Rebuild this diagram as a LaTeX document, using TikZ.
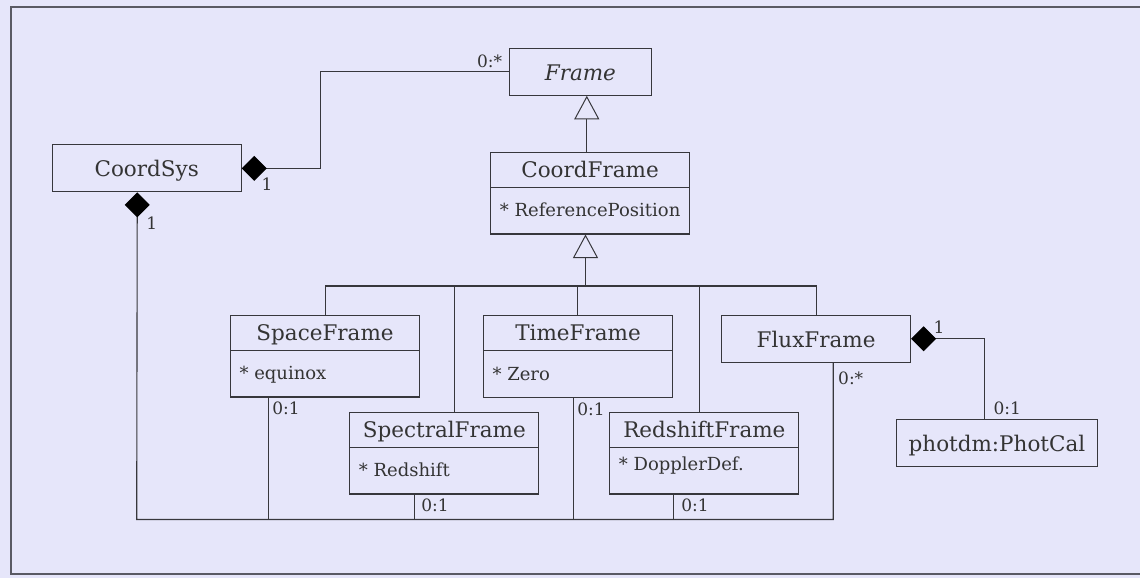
\documentclass[tikz,border=0pt]{standalone}
\usepackage{fontspec}
\setmainfont{DejaVu Serif}
\usetikzlibrary{shapes,arrows.meta}
\definecolor{bgcol}{RGB}{230,230,250}
\definecolor{txtcol}{RGB}{52,52,52}
\definecolor{linecol}{RGB}{55,55,60}
\definecolor{rimcol}{RGB}{90,90,100}
\newcommand{\titlefont}{\fontsize{21.5}{24}\selectfont}
\newcommand{\attrfont}{\fontsize{18}{21}\selectfont}
\newcommand{\multfont}{\fontsize{17}{20}\selectfont}
\newcommand{\tstrut}{\rule[-9.5pt]{0pt}{34pt}}
\newcommand{\astrut}{\rule[-16.5pt]{0pt}{45.5pt}}
\newcommand{\astrutup}{\rule[-23pt]{0pt}{45.5pt}}
\newcommand{\bstrut}{\rule[-15pt]{0pt}{47pt}}

\begin{document}
\begin{tikzpicture}[x=1pt,y=-1pt,
  box/.style={draw=linecol, line width=1.1pt, text=txtcol, font=\titlefont, inner sep=0pt, minimum width=189pt, anchor=north west},
  classbox/.style={box, rectangle split, rectangle split parts=2, rectangle split part align={center,left}, inner xsep=9pt},
  mult/.style={text=txtcol, font=\multfont, inner sep=0pt},
  conn/.style={draw=linecol, line width=1.1pt},
  compo/.style={conn, {Diamond[length=25pt,width=25pt,color=black]}-},
  inherit/.style={conn, -{Triangle[open,length=23.5pt,width=25pt,line width=1pt]}}]
\fill[bgcol] (0,0) rectangle (1140,578);
\useasboundingbox (0,0) rectangle (1140,578);
\draw[rimcol, line width=2pt] (11,7.5) rectangle (1143,573.5);

\node[box, minimum width=141.7pt, font=\titlefont\itshape] (Frame) at (509,47.7) {\bstrut Frame};
\node[box] (CoordSys) at (51.7,144.3) {\bstrut CoordSys};
\node[classbox, minimum width=197pt] (CoordFrame) at (490.3,151.7) {\tstrut CoordFrame\nodepart{second}\attrfont\astrut * ReferencePosition};
\node[classbox] (SpaceFrame) at (230,314.7) {\tstrut SpaceFrame\nodepart{second}\attrfont\astrut * equinox};
\node[classbox] (TimeFrame) at (483,315) {\tstrut TimeFrame\nodepart{second}\attrfont\astrut * Zero};
\node[classbox] (SpectralFrame) at (349.3,411.7) {\tstrut SpectralFrame\nodepart{second}\attrfont\astrut * Redshift};
\node[classbox] (RedshiftFrame) at (609.3,411.7) {\tstrut RedshiftFrame\nodepart{second}\attrfont\astrutup * DopplerDef.};
\node[box] (FluxFrame) at (721,314.7) {\bstrut FluxFrame};
\node[box, minimum width=201.8pt] (PhotCal) at (895.5,419) {\bstrut photdm:PhotCal};

\node[mult] (mFrame) at (489.7,61) {0:*};
\node[mult] (mSysR) at (267,184) {1};
\node[mult] (mSysB) at (151.7,222.7) {1};
\node[mult] (mSpace) at (286,408.3) {0:1};
\node[mult] (mTime) at (591,409) {0:1};
\node[mult] (mSpectral) at (435,505.7) {0:1};
\node[mult] (mRedshift) at (695,505.7) {0:1};
\node[mult] (mFlux) at (850.7,378.3) {0:*};
\node[mult] (mFluxR) at (939,326.7) {1};
\node[mult] (mPhot) at (1007.3,408.3) {0:1};

\coordinate (genbus) at (585.5,286);
\coordinate (compbus) at (136.7,519.5);

\draw[compo] (CoordSys.east) -- ++(78.6,0) |- (Frame.west);
\draw[compo] ([xshift=-9.5pt]CoordSys.south) -- (compbus) -| ([xshift=17.2pt]FluxFrame.south);
\foreach \n/\dx in {SpaceFrame/-56.4, SpectralFrame/-30.3, TimeFrame/-4.4, RedshiftFrame/-30.5}
  \draw[conn] ([xshift=\dx pt]\n.south) -- ([xshift=\dx pt]\n.south |- compbus);
\draw[compo] (FluxFrame.east) -| ([xshift=-12.9pt]PhotCal.north);

\draw[inherit] ([xshift=-3.3pt]CoordFrame.north) -- ([xshift=-3.3pt]CoordFrame.north |- Frame.south);
\draw[conn] (SpaceFrame.north) |- (genbus) -| (FluxFrame.north);
\draw[inherit] (genbus) -- (genbus |- CoordFrame.south);
\foreach \n/\dx in {SpectralFrame/10.4, TimeFrame/-0.7, RedshiftFrame/-4.5}
  \draw[conn] ([xshift=\dx pt]\n.north) -- ([xshift=\dx pt]\n.north |- genbus);
\end{tikzpicture}
\end{document}
